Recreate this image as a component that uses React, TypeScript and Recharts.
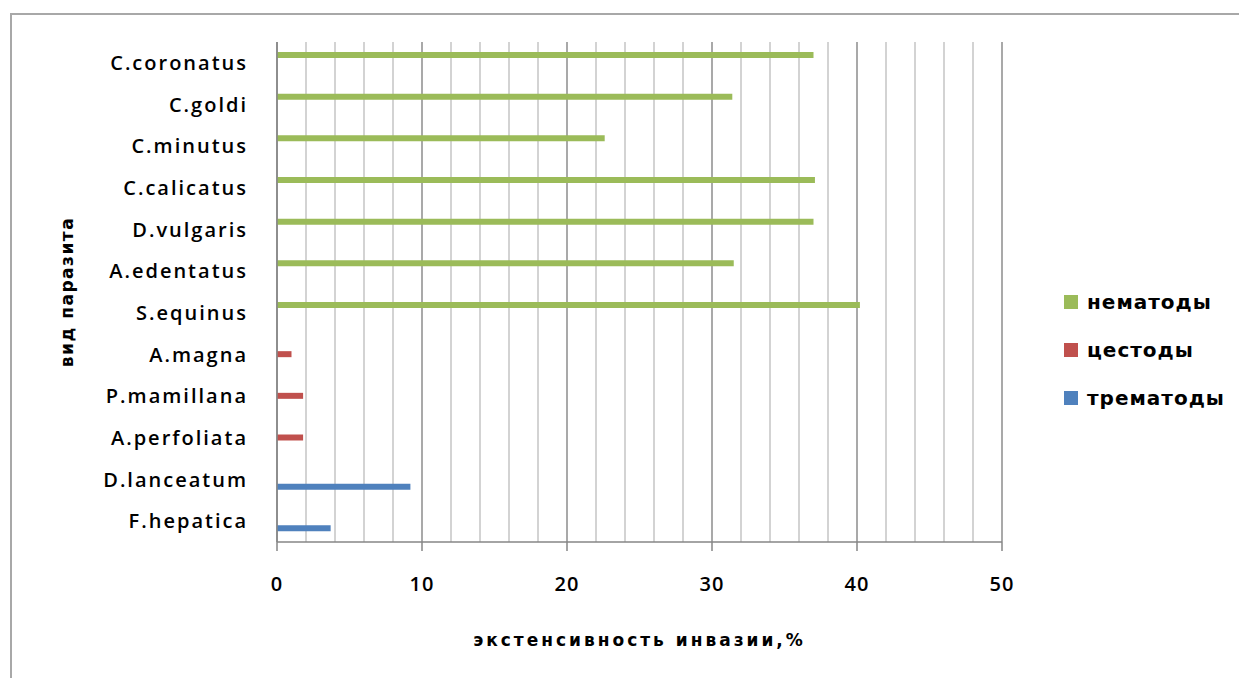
import React from 'react';
import { BarChart, Bar, XAxis, YAxis, CartesianGrid, ReferenceLine } from 'recharts';

const categories = ['C.coronatus', 'C.goldi', 'C.minutus', 'C.calicatus', 'D.vulgaris', 'A.edentatus', 'S.equinus', 'A.magna', 'P.mamillana', 'A.perfoliata', 'D.lanceatum', 'F.hepatica'];
const nematodes = [37.0, 31.4, 22.6, 37.1, 37.0, 31.5, 40.2, null, null, null, null, null];
const cestodes = [null, null, null, null, null, null, null, 1.0, 1.8, 1.8, null, null];
const trematodes = [null, null, null, null, null, null, null, null, null, null, 9.2, 3.7];
const seriesKeys = ['nem', 'ces', 'tre'];
const seriesNames = ['нематоды', 'цестоды', 'трематоды'];
const seriesColors = ['#9BBB59', '#C0504D', '#4F81BD'];
const majorTicks = [0, 10, 20, 30, 40, 50];
const minorTicks = [2, 4, 6, 8, 12, 14, 16, 18, 22, 24, 26, 28, 32, 34, 36, 38, 42, 44, 46, 48];
const xTitle = 'экстенсивность инвазии,%';
const yTitle = 'вид паразита';

const data = categories.map((name, i) => ({ name, nem: nematodes[i], ces: cestodes[i], tre: trematodes[i] }));

const FONT = '"DejaVu Sans", sans-serif';
const LFONT = '"Open Sans", sans-serif';

export default function App() {
  return (
    <div style={{ position: 'absolute', left: 0, top: 0, width: 1239, height: 678, background: '#fff', overflow: 'hidden' }}>
      <div style={{ position: 'absolute', left: 10, top: 13, width: 1400, height: 800, borderLeft: '2px solid #a8a8a8', borderTop: '2px solid #a8a8a8' }} />
      <div style={{ position: 'absolute', left: 0, top: 0 }}>
        <BarChart width={1239} height={678} data={data} layout="vertical" margin={{ top: 42, right: 237, bottom: 76, left: 77 }} barSize={6} barGap={1.5}>
          {minorTicks.map((t) => (
            <ReferenceLine key={t} x={t} stroke="#c4c4c4" strokeWidth={1.5} {...({ zIndex: -50 } as any)} />
          ))}
          <CartesianGrid vertical horizontal={false} stroke="#8c8c8c" strokeWidth={1.5} />
          <XAxis
            type="number"
            domain={[0, 50]}
            ticks={majorTicks}
            interval={0}
            height={60}
            tickSize={9}
            tickMargin={26}
            axisLine={{ stroke: '#868686', strokeWidth: 1.5 }}
            tickLine={{ stroke: '#868686', strokeWidth: 1.5 }}
            tick={{ fill: '#000', fontSize: 20, fontWeight: 600, fontFamily: LFONT, letterSpacing: 1 }}
            label={{
              content: (p: any) => {
                const vb = p.viewBox;
                return (
                  <text x={vb.x + vb.width / 2} y={vb.y + 104} textAnchor="middle" fontFamily={FONT} fontWeight="bold" fontSize={17} letterSpacing={3} fill="#000">
                    {xTitle}
                  </text>
                );
              },
            }}
          />
          <YAxis
            type="category"
            dataKey="name"
            width={200}
            tickLine={false}
            tickSize={0}
            tickMargin={29}
            interval={0}
            axisLine={{ stroke: '#868686', strokeWidth: 1.5 }}
            tick={{ fill: '#000', fontSize: 20, fontWeight: 600, fontFamily: LFONT, letterSpacing: 2 }}
            label={{
              content: (p: any) => {
                const vb = p.viewBox;
                const cx = vb.x - 9;
                const cy = vb.y + vb.height / 2;
                return (
                  <text x={cx} y={cy} transform={`rotate(-90 ${cx} ${cy})`} textAnchor="middle" dominantBaseline="middle" fontFamily={FONT} fontWeight="bold" fontSize={17} letterSpacing={1.5} fill="#000">
                    {yTitle}
                  </text>
                );
              },
            }}
          />
          {seriesKeys.map((k, i) => (
            <Bar key={k} dataKey={k} name={seriesNames[i]} fill={seriesColors[i]} isAnimationActive={false} />
          ))}
        </BarChart>
      </div>
      {seriesNames.map((n, i) => (
        <div key={n} style={{ position: 'absolute', left: 1064, top: 289 + i * 48, height: 26, display: 'flex', alignItems: 'center' }}>
          <div style={{ width: 14, height: 14, background: seriesColors[i], marginRight: 9 }} />
          <span style={{ fontFamily: FONT, fontWeight: 'bold', fontSize: 20, letterSpacing: 1, color: '#000' }}>{n}</span>
        </div>
      ))}
    </div>
  );
}
